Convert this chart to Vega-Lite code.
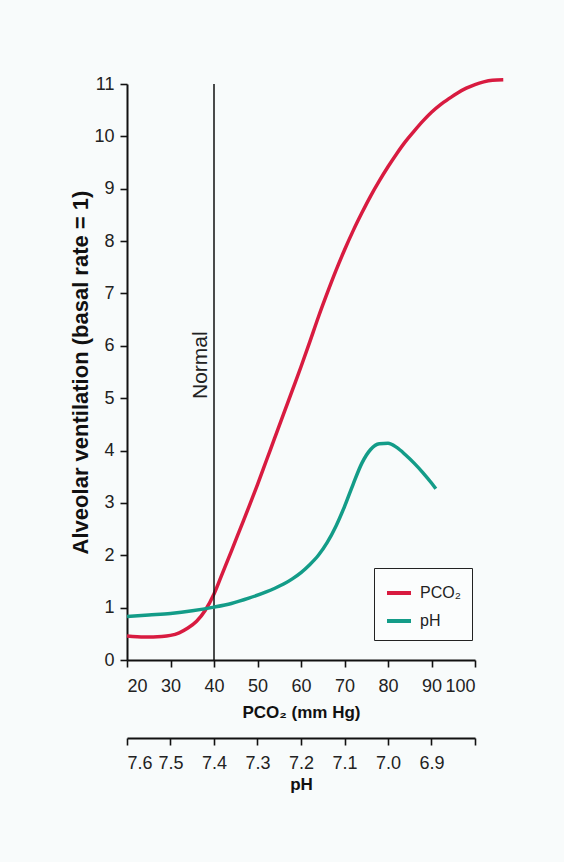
{
  "$schema": "https://vega.github.io/schema/vega-lite/v6.json",
  "width": 348,
  "height": 576,
  "autosize": {"type": "none"},
  "padding": {"left": 127, "top": 84, "right": 89, "bottom": 202},
  "background": "#f8fbfb",
  "config": {
    "font": "Liberation Sans",
    "view": {"stroke": null},
    "axis": {"grid": false}
  },
  "datasets": {
    "pco2curve": [
      {"pco2": 20, "v": 0.46, "series": "PCO₂"},
      {"pco2": 24, "v": 0.44, "series": "PCO₂"},
      {"pco2": 28, "v": 0.45, "series": "PCO₂"},
      {"pco2": 30, "v": 0.47, "series": "PCO₂"},
      {"pco2": 32, "v": 0.52, "series": "PCO₂"},
      {"pco2": 34, "v": 0.61, "series": "PCO₂"},
      {"pco2": 36, "v": 0.74, "series": "PCO₂"},
      {"pco2": 38, "v": 0.95, "series": "PCO₂"},
      {"pco2": 40, "v": 1.26, "series": "PCO₂"},
      {"pco2": 42, "v": 1.67, "series": "PCO₂"},
      {"pco2": 44, "v": 2.08, "series": "PCO₂"},
      {"pco2": 46, "v": 2.5, "series": "PCO₂"},
      {"pco2": 48, "v": 2.92, "series": "PCO₂"},
      {"pco2": 50, "v": 3.35, "series": "PCO₂"},
      {"pco2": 52, "v": 3.8, "series": "PCO₂"},
      {"pco2": 54, "v": 4.25, "series": "PCO₂"},
      {"pco2": 56, "v": 4.7, "series": "PCO₂"},
      {"pco2": 58, "v": 5.15, "series": "PCO₂"},
      {"pco2": 60, "v": 5.6, "series": "PCO₂"},
      {"pco2": 62, "v": 6.07, "series": "PCO₂"},
      {"pco2": 64, "v": 6.55, "series": "PCO₂"},
      {"pco2": 66, "v": 7.0, "series": "PCO₂"},
      {"pco2": 68, "v": 7.43, "series": "PCO₂"},
      {"pco2": 70, "v": 7.83, "series": "PCO₂"},
      {"pco2": 72, "v": 8.2, "series": "PCO₂"},
      {"pco2": 74, "v": 8.54, "series": "PCO₂"},
      {"pco2": 76, "v": 8.86, "series": "PCO₂"},
      {"pco2": 78, "v": 9.15, "series": "PCO₂"},
      {"pco2": 80, "v": 9.42, "series": "PCO₂"},
      {"pco2": 82, "v": 9.67, "series": "PCO₂"},
      {"pco2": 84, "v": 9.9, "series": "PCO₂"},
      {"pco2": 86, "v": 10.1, "series": "PCO₂"},
      {"pco2": 88, "v": 10.29, "series": "PCO₂"},
      {"pco2": 90, "v": 10.46, "series": "PCO₂"},
      {"pco2": 92, "v": 10.6, "series": "PCO₂"},
      {"pco2": 94, "v": 10.72, "series": "PCO₂"},
      {"pco2": 96, "v": 10.83, "series": "PCO₂"},
      {"pco2": 98, "v": 10.92, "series": "PCO₂"},
      {"pco2": 100, "v": 10.99, "series": "PCO₂"},
      {"pco2": 102, "v": 11.04, "series": "PCO₂"},
      {"pco2": 104, "v": 11.07, "series": "PCO₂"},
      {"pco2": 106.5, "v": 11.08, "series": "PCO₂"}
    ],
    "phcurve": [
      {"ph": 7.6, "v": 0.83, "series": "pH"},
      {"ph": 7.55, "v": 0.86, "series": "pH"},
      {"ph": 7.5, "v": 0.89, "series": "pH"},
      {"ph": 7.45, "v": 0.94, "series": "pH"},
      {"ph": 7.4, "v": 1.01, "series": "pH"},
      {"ph": 7.36, "v": 1.08, "series": "pH"},
      {"ph": 7.32, "v": 1.18, "series": "pH"},
      {"ph": 7.28, "v": 1.3, "series": "pH"},
      {"ph": 7.26, "v": 1.37, "series": "pH"},
      {"ph": 7.24, "v": 1.45, "series": "pH"},
      {"ph": 7.22, "v": 1.55, "series": "pH"},
      {"ph": 7.2, "v": 1.67, "series": "pH"},
      {"ph": 7.18, "v": 1.82, "series": "pH"},
      {"ph": 7.16, "v": 2.0, "series": "pH"},
      {"ph": 7.14, "v": 2.24, "series": "pH"},
      {"ph": 7.12, "v": 2.55, "series": "pH"},
      {"ph": 7.1, "v": 2.93, "series": "pH"},
      {"ph": 7.08, "v": 3.36, "series": "pH"},
      {"ph": 7.06, "v": 3.76, "series": "pH"},
      {"ph": 7.04, "v": 4.02, "series": "pH"},
      {"ph": 7.02, "v": 4.13, "series": "pH"},
      {"ph": 7.0, "v": 4.14, "series": "pH"},
      {"ph": 6.98, "v": 4.06, "series": "pH"},
      {"ph": 6.96, "v": 3.92, "series": "pH"},
      {"ph": 6.94, "v": 3.76, "series": "pH"},
      {"ph": 6.92, "v": 3.58, "series": "pH"},
      {"ph": 6.9, "v": 3.38, "series": "pH"},
      {"ph": 6.89, "v": 3.27, "series": "pH"}
    ],
    "normalline": [{"pco2": 40, "v": 0, "v2": 11}],
    "normallabel": [{"pco2": 40, "v": 5.63, "label": "Normal"}]
  },
  "encoding": {
    "y": {
      "field": "v",
      "type": "quantitative",
      "scale": {"domain": [0, 11], "nice": false, "zero": true},
      "axis": {
        "values": [0, 1, 2, 3, 4, 5, 6, 7, 8, 9, 10, 11],
        "title": "Alveolar ventilation (basal rate = 1)",
        "titleFont": "Liberation Sans",
        "titleFontWeight": "bold",
        "titleColor": "#111",
        "titleFontSize": 22,
        "titlePadding": 1,
        "labelFont": "Liberation Sans",
        "labelFontSize": 18,
        "labelColor": "#222",
        "domainColor": "#111",
        "domainWidth": 2,
        "tickColor": "#111",
        "tickWidth": 1.6,
        "tickSize": 7,
        "labelPadding": 6
      }
    }
  },
  "layer": [
    {
      "encoding": {
        "x": {
          "field": "pco2",
          "type": "quantitative",
          "scale": {"domain": [20, 100], "nice": false, "zero": false},
          "axis": {
            "values": [20, 30, 40, 50, 60, 70, 80, 90, 100],
            "title": "PCO₂ (mm Hg)",
            "titleFont": "Liberation Sans",
            "titleFontWeight": "bold",
            "titleColor": "#111",
            "titleFontSize": 17,
            "titlePadding": 9,
            "labelFont": "Liberation Sans",
            "labelFontSize": 18,
            "labelColor": "#222",
            "domainColor": "#111",
            "domainWidth": 2,
            "tickColor": "#111",
            "tickWidth": 1.6,
            "tickSize": 7,
            "labelPadding": 10
          }
        }
      },
      "layer": [
        {
          "data": {"name": "pco2curve"},
          "mark": {"type": "line", "strokeWidth": 3.5, "interpolate": "monotone", "clip": false},
          "encoding": {
            "color": {
              "field": "series",
              "type": "nominal",
              "scale": {"domain": ["PCO₂", "pH"], "range": ["#d81b40", "#139c88"]},
              "legend": {
                "title": null,
                "orient": "none",
                "legendX": 247,
                "legendY": 484,
                "symbolType": "stroke",
                "symbolSize": 576,
                "symbolStrokeWidth": 4,
                "labelFontSize": 16,
                "labelFont": "Liberation Sans",
                "labelColor": "#222",
                "labelOffset": 7,
                "rowPadding": 6,
                "padding": 11,
                "strokeColor": "#222",
                "fillColor": "#fbfdfd"
              }
            }
          }
        },
        {
          "data": {"name": "normalline"},
          "mark": {"type": "rule", "color": "#111", "strokeWidth": 1.5},
          "encoding": {
            "y2": {"field": "v2"}
          }
        },
        {
          "data": {"name": "normallabel"},
          "mark": {"type": "text", "angle": 270, "align": "center", "baseline": "bottom", "dy": -3, "fontSize": 21, "color": "#222", "font": "Liberation Sans"},
          "encoding": {
            "text": {"field": "label"}
          }
        }
      ]
    },
    {
      "data": {"name": "phcurve"},
      "mark": {"type": "line", "strokeWidth": 3.5, "interpolate": "monotone", "clip": false},
      "encoding": {
        "x": {
          "field": "ph",
          "type": "quantitative",
          "scale": {"domain": [7.6, 6.8], "nice": false, "zero": false},
          "axis": {
            "orient": "bottom",
            "offset": 78,
            "values": [7.6, 7.5, 7.4, 7.3, 7.2, 7.1, 7.0, 6.9, 6.8],
            "labelExpr": "datum.value < 6.85 ? '' : format(datum.value, '.1f')",
            "title": "pH",
            "titleFont": "Liberation Sans",
            "titleFontWeight": "bold",
            "titleColor": "#111",
            "titleFontSize": 17,
            "titlePadding": 4,
            "labelFont": "Liberation Sans",
            "labelFontSize": 18,
            "labelColor": "#222",
            "domainColor": "#111",
            "domainWidth": 2,
            "tickColor": "#111",
            "tickWidth": 1.6,
            "tickSize": 7,
            "labelPadding": 9
          }
        },
        "color": {
          "field": "series",
          "type": "nominal",
          "scale": {"domain": ["PCO₂", "pH"], "range": ["#d81b40", "#139c88"]},
          "legend": {
            "title": null,
            "orient": "none",
            "legendX": 247,
            "legendY": 484,
            "symbolType": "stroke",
            "symbolSize": 576,
            "symbolStrokeWidth": 4,
            "labelFontSize": 16,
            "labelFont": "Liberation Sans",
            "labelColor": "#222",
            "labelOffset": 7,
            "rowPadding": 6,
            "padding": 11,
            "strokeColor": "#222",
            "fillColor": "#fbfdfd"
          }
        }
      }
    }
  ],
  "resolve": {"scale": {"x": "independent"}}
}
